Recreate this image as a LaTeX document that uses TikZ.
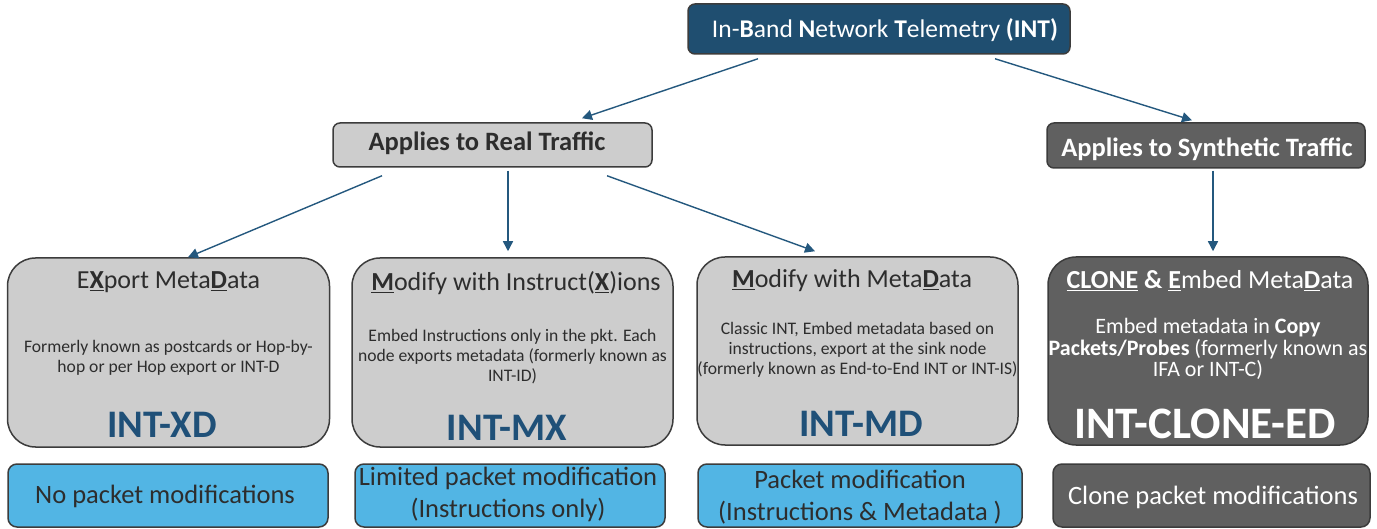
\documentclass[tikz,border=0pt]{standalone}
\usepackage{fontspec}
\setmainfont{Carlito}
\usetikzlibrary{arrows.meta}

\definecolor{headblue}{RGB}{31,78,112}
\definecolor{labelblue}{RGB}{31,80,120}
\definecolor{arrowblue}{RGB}{36,88,126}
\definecolor{edge}{RGB}{60,60,60}
\definecolor{lightbox}{RGB}{205,205,205}
\definecolor{darkbox}{RGB}{96,96,96}
\definecolor{skyfill}{RGB}{82,181,228}
\definecolor{inkgray}{RGB}{45,45,45}

\newcommand{\ulb}[1]{\underline{\textbf{#1}}}
\newcommand{\fs}[2]{\fontsize{#1}{#2}\selectfont}

\tikzset{
  boxbase/.style={draw=edge, line width=1.5pt, rectangle, inner sep=0pt},
  headbox/.style={boxbase, fill=headblue, rounded corners=7pt, minimum width=382pt, minimum height=50pt},
  realbox/.style={boxbase, fill=lightbox, rounded corners=7pt, minimum width=319pt, minimum height=44pt},
  synbox/.style={boxbase, fill=darkbox, rounded corners=7pt, minimum width=318pt, minimum height=45pt},
  kindbox/.style={boxbase, fill=lightbox, rounded corners=28pt, minimum width=322pt, minimum height=189pt},
  clonebox/.style={boxbase, fill=darkbox, rounded corners=28pt, minimum width=320pt, minimum height=188pt},
  notebox/.style={boxbase, fill=skyfill, rounded corners=9pt, minimum height=63pt},
  notegray/.style={boxbase, fill=darkbox, rounded corners=9pt, minimum height=63pt},
  titletext/.style={inner sep=0pt, text=inkgray, font=\fs{26}{26}},
  bodytext/.style={inner sep=0pt, text=inkgray, font=\fs{17.6}{18}, align=center},
  codetext/.style={inner sep=0pt, text=labelblue, font=\fs{39}{39}\bfseries},
  notetext/.style={inner sep=0pt, text=inkgray, font=\fs{26.5}{27}, align=center},
  link/.style={draw=arrowblue, line width=1.4pt, -{Triangle[length=10pt,width=10pt]}}
}

\begin{document}
\begin{tikzpicture}[x=1pt, y=-1pt]
\useasboundingbox (0,0) rectangle (1377,529);

% top level
\node[headbox] (top) at (879,29) {};
\node[inner sep=0pt, text=white, font=\fs{25.5}{26}] (toptxt) at (885,30)
  {In-\textbf{B}and \textbf{N}etwork \textbf{T}elemetry \textbf{(INT)}};

% traffic categories
\node[realbox] (real) at (492.5,145) {};
\node[inner sep=0pt, text=inkgray, font=\fs{26.5}{27}\bfseries] (realtxt) at (487,143) {Applies to Real Traffic};
\node[synbox] (syn) at (1206,145.5) {};
\node[inner sep=0pt, text=white, font=\fs{26.5}{27}\bfseries] (syntxt) at (1207,149) {Applies to Synthetic Traffic};

% INT variants
\node[kindbox] (xd) at (168.5,352.5) {};
\node[titletext] (xdt) at (168.5,282) {E\ulb{X}port Meta\ulb{D}ata};
\node[bodytext] (xdb) at (168.5,358) {Formerly known as postcards or Hop-by-\\[2pt]hop or per Hop export or INT-D};
\node[codetext] (xdn) at (162,425) {INT-XD};

\node[kindbox, minimum width=321pt] (mx) at (512.5,352.5) {};
\node[titletext] (mxt) at (516,283) {\ulb{M}odify with Instruct(\ulb{X})ions};
\node[bodytext] (mxb) at (512.5,357) {Embed Instructions only in the pkt. Each\\[2pt]node exports metadata (formerly known as\\[2pt]INT-ID)};
\node[codetext] (mxn) at (507,428) {INT-MX};

\node[kindbox, minimum width=321pt, minimum height=188pt] (md) at (857.5,351) {};
\node[titletext] (mdt) at (852,281) {\ulb{M}odify with Meta\ulb{D}ata};
\node[bodytext] (mdb) at (857.5,350) {Classic INT, Embed metadata based on\\[2pt]instructions, export at the sink node\\[2pt](formerly known as End-to-End INT or INT-IS)};
\node[codetext] (mdn) at (861,424) {INT-MD};

\node[clonebox] (ce) at (1208,351) {};
\node[titletext, text=white] (cet) at (1210,281) {\ulb{CLONE} \textbf{\&} \ulb{E}mbed Meta\ulb{D}ata};
\node[bodytext, text=white, font=\fs{22}{21.5}] (ceb) at (1208,349) {Embed metadata in \textbf{Copy}\\\textbf{Packets/Probes} (formerly known as\\IFA or INT-C)};
\node[codetext, text=white, font=\fs{45}{45}\bfseries] (cen) at (1205,424) {INT-CLONE-ED};

% packet modification notes
\node[notebox, minimum width=320pt] (n1) at (168,495.5) {};
\node[notetext] (n1t) at (165,496) {No packet modifications};
\node[notebox, minimum width=310pt] (n2) at (510,495.5) {};
\node[notetext] (n2t) at (508,494) {Limited packet modification\\[5pt](Instructions only)};
\node[notebox, minimum width=324pt] (n3) at (860,495.5) {};
\node[notetext] (n3t) at (860,497) {Packet modification\\[5pt](Instructions \& Metadata )};
\node[notegray, minimum width=317pt] (n4) at (1211.5,495.5) {};
\node[notetext, text=white] (n4t) at (1213,497) {Clone packet modifications};

% connectors
\draw[link] ([xshift=-121pt,yshift=-4pt]top.south) -- ([xshift=89.5pt,yshift=4pt]real.north);
\draw[link] ([xshift=116pt,yshift=-4pt]top.south) -- ([xshift=-14pt,yshift=2pt]syn.north);
\draw[link] ([xshift=-110.5pt,yshift=-8pt]real.south) -- ([xshift=19.5pt,yshift=0pt]xd.north);
\draw[link] ([xshift=15.5pt,yshift=-3pt]real.south) -- ([xshift=-4.5pt,yshift=6pt]mx.north);
\draw[link] ([xshift=114.5pt,yshift=-8pt]real.south) -- ([xshift=-42.5pt,yshift=5pt]md.north);
\draw[link] ([xshift=7pt,yshift=-2pt]syn.south) -- ([xshift=5pt,yshift=5pt]ce.north);
\end{tikzpicture}
\end{document}
